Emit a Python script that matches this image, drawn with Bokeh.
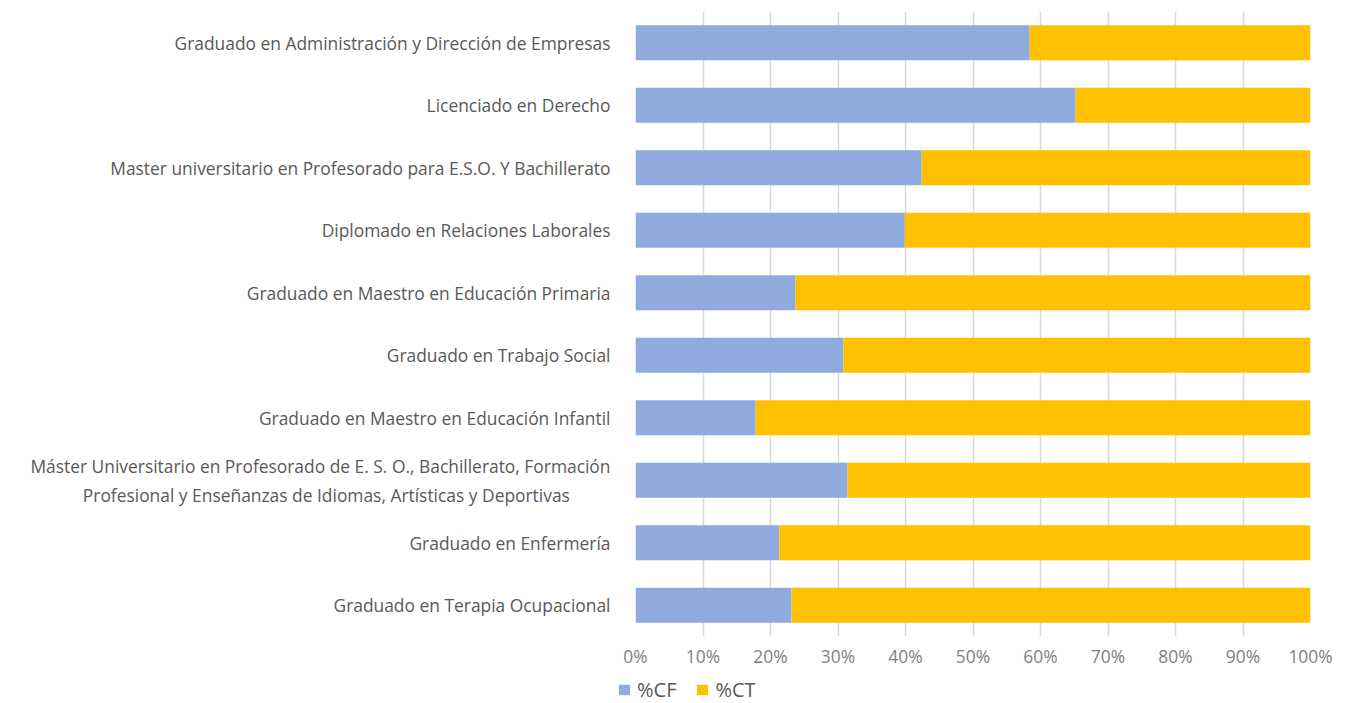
from bokeh.plotting import figure
from bokeh.layouts import column
from bokeh.models import ColumnDataSource, FactorRange, Range1d, NumeralTickFormatter, Legend, LegendItem, FixedTicker
from bokeh.embed import file_html
from bokeh.resources import INLINE

categories = [
    "Graduado en Administración y Dirección de Empresas",
    "Licenciado en Derecho",
    "Master universitario en Profesorado para E.S.O. Y Bachillerato",
    "Diplomado en Relaciones Laborales",
    "Graduado en Maestro en Educación Primaria",
    "Graduado en Trabajo Social",
    "Graduado en Maestro en Educación Infantil",
    "Máster Universitario en Profesorado de E. S. O., Bachillerato, Formación\nProfesional y Enseñanzas de Idiomas, Artísticas y Deportivas" + "\u00a0" * 9,
    "Graduado en Enfermería",
    "Graduado en Terapia Ocupacional",
]
pct_cf = [58.4, 65.2, 42.4, 39.9, 23.7, 30.8, 17.8, 31.4, 21.3, 23.1]
pct_ct = [100 - v for v in pct_cf]
series = ["%CF", "%CT"]
colors = ["#8FAADC", "#FFC000"]

cats_rev = list(reversed(categories))
src = ColumnDataSource(dict(
    cat=categories,
    cf=[v / 100 for v in pct_cf],
    ct=[v / 100 for v in pct_ct],
))

FONT = "Open Sans"

p = figure(width=1353, height=675, y_range=FactorRange(*cats_rev), x_range=Range1d(0, 1),
           output_backend="svg", toolbar_location=None,
           min_border_left=635, min_border_right=43, min_border_top=11, min_border_bottom=39)
p.outline_line_color = None

r = p.hbar_stack(["cf", "ct"], y="cat", height=0.56, color=colors, source=src, line_color=None)

p.xaxis.ticker = FixedTicker(ticks=[i / 10 for i in range(11)])
p.xaxis.formatter = NumeralTickFormatter(format="0%")
p.xaxis.axis_line_color = None
p.xaxis.major_tick_line_color = None
p.xaxis.minor_tick_line_color = None
p.xaxis.major_label_text_font = FONT
p.xaxis.major_label_text_font_size = "17.4px"
p.xaxis.major_label_text_color = "#7F7F7F"
p.xaxis.major_label_standoff = 1

p.yaxis.axis_line_color = None
p.yaxis.major_tick_line_color = None
p.yaxis.minor_tick_line_color = None
p.yaxis.major_label_text_font = FONT
p.yaxis.major_label_text_font_size = "17.4px"
p.yaxis.major_label_text_color = "#595959"
p.yaxis.major_label_standoff = 19

p.xgrid.grid_line_color = "#D9D9D9"
p.xgrid.grid_line_width = 1.5
p.ygrid.grid_line_color = None
p.y_range.range_padding = 0

# legend strip
p2 = figure(width=1353, height=28, x_range=Range1d(0, 1), y_range=Range1d(0, 1),
            output_backend="svg", toolbar_location=None, x_axis_type=None, y_axis_type=None,
            min_border_left=0, min_border_right=0, min_border_top=0, min_border_bottom=0)
p2.grid.visible = False
p2.outline_line_color = None
p2.border_fill_color = "white"
p2.background_fill_color = "white"

legend_x = -17
if hasattr(p2, "frame_align"):
    p.frame_align = False
    p2.frame_align = False
    legend_x = 617

# legend swatches: placed outside the visible x-range so only the legend shows them
lr = [p2.hbar(y=[0.5], left=[2], right=[3], height=0.5, color=c, line_color=None) for c in colors]
legend = Legend(items=[LegendItem(label=series[0], renderers=[lr[0]]),
                       LegendItem(label=series[1], renderers=[lr[1]])],
                orientation="horizontal", location=(legend_x, 0),
                label_text_font=FONT, label_text_font_size="20px", label_text_color="#595959",
                glyph_width=14, glyph_height=13, spacing=19, label_standoff=6,
                background_fill_alpha=0, border_line_color=None, padding=0, margin=0)
p2.add_layout(legend, "center")

open("out.html", "w").write(file_html(column(p, p2, spacing=0), INLINE))
